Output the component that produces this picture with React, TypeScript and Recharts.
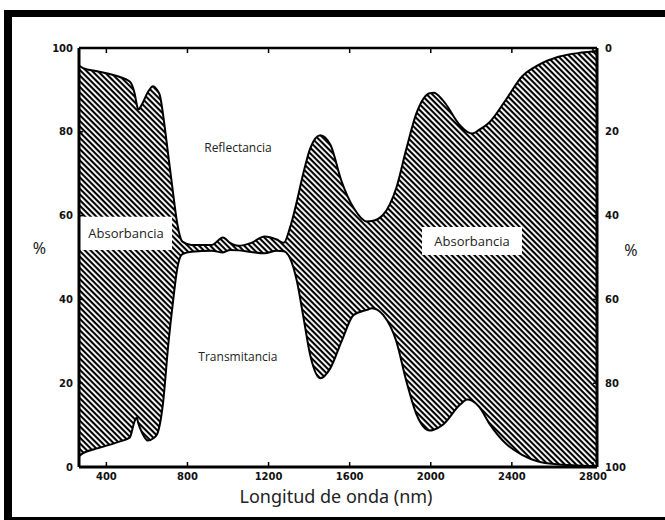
import React from 'react';
import {
  ComposedChart,
  Area,
  Line,
  XAxis,
  YAxis,
  ReferenceArea,
  ReferenceDot,
} from 'recharts';

// Wavelength (nm)
const wavelengths = [
  265, 285, 360, 460, 515, 540, 550, 557, 575, 605, 630, 650, 665, 680, 705, 730, 750, 775,
  820, 920, 975, 1010, 1050, 1115, 1180, 1240, 1275, 1305, 1340, 1370, 1405, 1455, 1505,
  1560, 1620, 1685, 1710, 1765, 1830, 1880, 1930, 1995, 2015, 2060, 2145, 2180, 2205, 2240,
  2290, 2370, 2450, 2530, 2630, 2745, 2820,
];
// Reflectance, % read on the right (inverted) axis
const reflectance = [
  4.2, 4.8, 5.6, 6.8, 8.0, 11.0, 13.5, 14.7, 13.5, 10.5, 9.1, 10.0, 11.5, 16.0, 25.5, 35.0, 42.0, 46.2,
  47.0, 47.0, 45.2, 46.5, 47.2, 46.5, 45.0, 45.7, 46.5, 43.0, 36.5, 30.2, 24.0, 20.8, 23.1,
  31.8, 38.2, 41.4, 41.3, 39.8, 33.4, 24.0, 15.5, 10.8, 10.7, 12.5, 18.5, 20.0, 20.4, 19.5,
  17.7, 12.4, 6.8, 4.1, 2.1, 1.1, 0.7,
];
// Transmittance, % read on the left axis
const transmittance = [
  2.6, 3.3, 4.5, 6.0, 7.0, 11.0, 11.8, 10.5, 8.3, 6.3, 6.8, 7.8, 10.5, 15.5, 29.0, 40.0, 47.5, 50.8,
  51.4, 51.6, 51.2, 51.8, 51.7, 51.3, 51.0, 51.6, 51.5, 49.9, 44.3, 36.3, 26.8, 21.2, 23.6,
  30.0, 36.3, 37.5, 37.9, 36.3, 30.0, 20.4, 12.5, 8.7, 8.9, 10.1, 14.9, 16.1, 15.8, 14.3,
  10.3, 5.6, 2.9, 1.3, 0.6, 0.3, 0.2,
];

const xTicks = [400, 800, 1200, 1600, 2000, 2400, 2800];
const leftTicks = [0, 20, 40, 60, 80, 100];
const rightTicks = [0, 20, 40, 60, 80, 100];

// absorbance band lies between transmittance (from bottom) and reflectance (from top)
const data = wavelengths.map((nm, i) => ({
  nm,
  band: [transmittance[i], 100 - reflectance[i]],
  refl: reflectance[i],
  trans: transmittance[i],
}));

const tickStyle = {
  fontFamily: '"DejaVu Sans", sans-serif',
  fontSize: 10,
  fontWeight: 700,
  fill: '#111',
};

const textFont = '"Open Sans", "Noto Sans", sans-serif';

export default function App() {
  return (
    <div
      style={{
        position: 'fixed',
        left: 0,
        top: 0,
        width: 665,
        height: 520,
        overflow: 'hidden',
        background: '#fff',
      }}
    >
      <div
        style={{
          position: 'absolute',
          left: 4,
          top: 10,
          width: 720,
          height: 514,
          boxSizing: 'border-box',
          border: '8px solid #000',
          borderTopWidth: 7,
          borderBottomWidth: 7,
        }}
      />
      <div style={{ position: 'absolute', left: 0, top: 0 }}>
        <ComposedChart
          width={665}
          height={520}
          data={data}
          margin={{ top: 18, right: 0, bottom: 0, left: 0 }}
        >
          <defs>
            <pattern
              id="hatch"
              patternUnits="userSpaceOnUse"
              width="4"
              height="4"
              patternTransform="rotate(45)"
            >
              <rect x="0" y="0" width="4" height="4" fill="#fff" />
              <rect x="0" y="0" width="4" height="2.1" fill="#000" />
            </pattern>
          </defs>
          <XAxis
            dataKey="nm"
            type="number"
            domain={[265, 2820]}
            allowDataOverflow
            ticks={xTicks}
            height={53}
            axisLine={{ stroke: '#000', strokeWidth: 3 }}
            tickLine={{ stroke: '#000', strokeWidth: 1.5 }}
            tickSize={-5}
            tickMargin={11}
            tick={tickStyle}
            label={{
              value: 'Longitud de onda (nm)',
              position: 'center',
              dy: 3,
              dx: -2,
              style: { fontFamily: '"Noto Sans", sans-serif', fontSize: 18, fill: '#222' },
            }}
          />
          <XAxis
            xAxisId="top"
            orientation="top"
            dataKey="nm"
            type="number"
            domain={[265, 2820]}
            allowDataOverflow
            ticks={xTicks}
            height={30}
            axisLine={{ stroke: '#000', strokeWidth: 2.5 }}
            tickLine={{ stroke: '#000', strokeWidth: 1.5 }}
            tickSize={-5}
            tick={() => <g />}
          />
          <YAxis
            type="number"
            domain={[0, 100]}
            allowDataOverflow
            ticks={leftTicks}
            width={79}
            axisLine={{ stroke: '#000', strokeWidth: 3 }}
            tickLine={{ stroke: '#000', strokeWidth: 1.5 }}
            tickSize={-4}
            tickMargin={10}
            tick={tickStyle}
            label={{
              value: '%',
              position: 'center',
              dy: -9,
              style: { fontFamily: '"Noto Sans", sans-serif', fontSize: 16, fill: '#222' },
            }}
          />
          <YAxis
            yAxisId="right"
            orientation="right"
            type="number"
            domain={[0, 100]}
            allowDataOverflow
            reversed
            ticks={rightTicks}
            width={68}
            axisLine={{ stroke: '#000', strokeWidth: 3 }}
            tickLine={{ stroke: '#000', strokeWidth: 1.5 }}
            tickSize={-4}
            tickMargin={12}
            tick={tickStyle}
            label={{
              value: '%',
              position: 'center',
              dy: -7,
              style: { fontFamily: '"Noto Sans", sans-serif', fontSize: 16, fill: '#222' },
            }}
          />
          <Area
            xAxisId="top"
            dataKey="band"
            type="monotone"
            fill="url(#hatch)"
            fillOpacity={1}
            stroke="none"
            isAnimationActive={false}
            activeDot={false}
          />
          <Line
            yAxisId="right"
            dataKey="refl"
            type="monotone"
            stroke="#000"
            strokeWidth={2}
            dot={false}
            activeDot={false}
            isAnimationActive={false}
          />
          <Line
            dataKey="trans"
            type="monotone"
            stroke="#000"
            strokeWidth={2}
            dot={false}
            activeDot={false}
            isAnimationActive={false}
          />
          <ReferenceArea
            x1={270}
            x2={724}
            y1={51.8}
            y2={59.7}
            fill="#fff"
            fillOpacity={1}
            stroke="none"
            label={{
              value: 'Absorbancia',
              position: 'center',
              style: { fontFamily: textFont, fontSize: 13, fill: '#222' },
            }}
          />
          <ReferenceArea
            x1={1957}
            x2={2450}
            y1={50.6}
            y2={57.3}
            fill="#fff"
            fillOpacity={1}
            stroke="none"
            label={{
              value: 'Absorbancia',
              position: 'center',
              style: { fontFamily: textFont, fontSize: 13, fill: '#222' },
            }}
          />
          <ReferenceDot
            x={1049}
            y={76.1}
            r={0}
            stroke="none"
            fill="none"
            label={{
              value: 'Reflectancia',
              position: 'center',
              style: { fontFamily: textFont, fontSize: 12, fill: '#222' },
            }}
          />
          <ReferenceDot
            x={1049}
            y={26.3}
            r={0}
            stroke="none"
            fill="none"
            label={{
              value: 'Transmitancia',
              position: 'center',
              style: { fontFamily: textFont, fontSize: 12, fill: '#222' },
            }}
          />
        </ComposedChart>
      </div>
    </div>
  );
}
